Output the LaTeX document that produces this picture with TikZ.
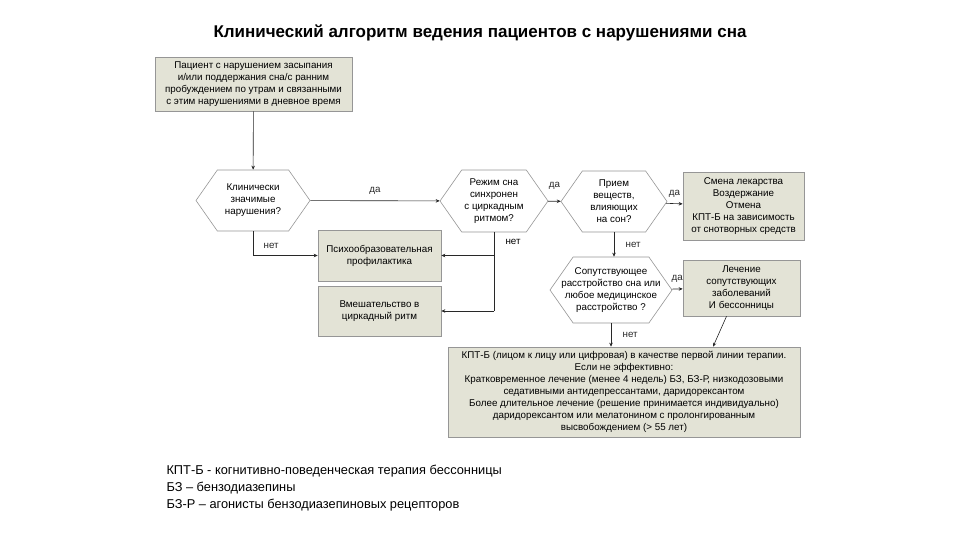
\documentclass[tikz,border=0pt]{standalone}
\usepackage{fontspec}
\setmainfont{Liberation Sans}
\usetikzlibrary{shapes.symbols, arrows.meta, positioning}
\definecolor{boxfill}{RGB}{227,227,214}
\definecolor{boxdraw}{RGB}{150,150,150}
\definecolor{mydark}{RGB}{40,40,40}
\tikzset{
  block/.style={rectangle, draw=boxdraw, fill=boxfill, align=center,
    font=\fontsize{9.8}{12}\selectfont, inner sep=1pt, line width=0.6pt},
  hexnode/.style={shape=signal, signal to=east and west, signal pointer angle=110,
    draw=boxdraw, fill=white, align=center,
    font=\fontsize{9.8}{12}\selectfont, inner sep=0pt, line width=0.6pt},
  arrow/.style={-{Stealth[length=4pt,width=3.5pt]}, line width=0.6pt, color=mydark},
  line/.style={line width=0.6pt, color=mydark},
  lbl/.style={font=\fontsize{9.8}{11}\selectfont}
}
\begin{document}
\begin{tikzpicture}[x=1pt, y=-1pt]
  \useasboundingbox (0,0) rectangle (960,540);
  % Title
  \node[font=\fontsize{17}{19}\selectfont\bfseries] (title) at (480,33)
    {Клинический алгоритм ведения пациентов с нарушениями сна};

  % ── Boxes and decisions ───────────────────────────────────────────
  \node[block, minimum width=197pt, minimum height=54pt] (patient) at (253.5,84)
    {Пациент с нарушением засыпания\\и/или поддержания сна/с ранним\\пробуждением по утрам и связанными\\с этим нарушениями в дневное время};
  \node[hexnode, minimum width=114pt, minimum height=61pt] (clin) at (253,200.5)
    {Клинически\\значимые\\нарушения?};
  \node[hexnode, minimum width=108pt, minimum height=62pt] (rhythm) at (494,201)
    {Режим сна\\синхронен\\с циркадным\\ритмом?};
  \node[hexnode, minimum width=106pt, minimum height=61pt] (subst) at (614,201.5)
    {Прием\\веществ,\\влияющих\\на сон?};
  \node[block, minimum width=121pt, minimum height=68pt] (change) at (743.5,206)
    {Смена лекарства\\Воздержание\\Отмена\\КПТ-Б на зависимость\\от снотворных средств};
  \node[block, minimum width=123pt, minimum height=51pt] (psycho) at (379.5,255.5)
    {Психообразовательная\\профилактика};
  \node[block, minimum width=123pt, minimum height=50pt] (circ) at (379.5,311)
    {Вмешательство в\\циркадный ритм};
  \node[hexnode, minimum width=122pt, minimum height=66pt] (comorb) at (611,290)
    {Сопутствующее\\\makebox[74pt]{расстройство сна или}\\\makebox[74pt]{любое медицинское}\\расстройство ?};
  \node[block, minimum width=117pt, minimum height=56pt] (treat) at (741.5,288)
    {Лечение\\сопутствующих\\заболеваний\\И бессонницы};
  \node[block, minimum width=352pt, minimum height=90pt] (therapy) at (624,392)
    {КПТ-Б (лицом к лицу или цифровая) в качестве первой линии терапии.\\Если не эффективно:\\Кратковременное лечение (менее 4 недель) БЗ, БЗ-Р, низкодозовыми\\седативными антидепрессантами, даридорексантом\\Более длительное лечение (решение принимается индивидуально)\\даридорексантом или мелатонином с пролонгированным\\высвобождением (> 55 лет)};

  % ── Connectors ────────────────────────────────────────────────────
  \draw[arrow] (patient) -- (clin);
  \draw[arrow] (clin) -- node[lbl, midway, above=3pt] {да} (rhythm);
  \draw[arrow] (rhythm) -- node[lbl, midway, above=8pt] {да} (subst);
  \draw[arrow] (subst) -- node[lbl, midway, above=3pt] {да} (change);
  \draw[arrow] (clin.south) |- node[lbl, pos=0.3, right=7pt] {нет} (psycho.west);
  % Branch from rhythm
  \coordinate (rhyA) at (rhythm.south |- psycho.east);
  \coordinate (rhyB) at (rhythm.south |- circ.east);
  \draw[line] (rhythm.south) -- (rhyB);
  \node[lbl, right=8pt] (rhyno) at ([yshift=-10pt]rhythm.south) {нет};
  \draw[arrow] (rhyA) -- (psycho.east);
  \draw[arrow] (rhyB) -- (circ.east);
  % Substances and comorbidity
  \draw[arrow] (subst.south) -- node[lbl, midway, right=8pt] {нет} (subst.south |- comorb.north);
  \draw[arrow] (comorb) -- node[lbl, midway, above=3pt] {да} (treat);
  \draw[arrow] (comorb.south) -- node[lbl, midway, right=8pt] {нет} (comorb.south |- therapy.north);
  \draw[arrow] ([xshift=-15pt]treat.south) -- ([xshift=89pt]therapy.north);

  % Legend
  \node[anchor=north west, align=left, font=\fontsize{12.8}{17}\selectfont] (legend) at (163,462)
    {КПТ-Б - когнитивно-поведенческая терапия бессонницы\\БЗ – бензодиазепины\\БЗ-Р – агонисты бензодиазепиновых рецепторов};
\end{tikzpicture}
\end{document}
